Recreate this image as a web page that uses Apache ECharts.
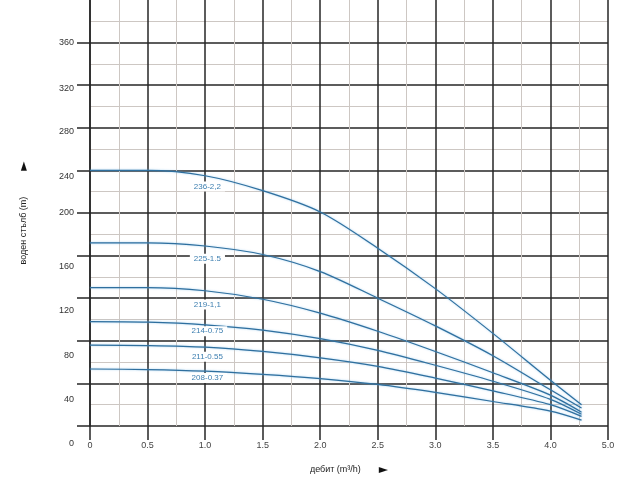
<!DOCTYPE html>
<html>
<head>
<meta charset="utf-8">
<script src="https://cdn.jsdelivr.net/npm/echarts@6/dist/echarts.min.js"></script>
<style>html,body{margin:0;padding:0;background:#fff}#c{width:640px;height:480px}</style>
</head>
<body>
<div id="c"></div>
<script>
// flow (m3/h, drawn scale; last tick labelled "5.0" sits at 4.5)
var flow = [0, 0.5, 1.0, 1.5, 2.0, 2.5, 3.0, 3.5, 4.0, 4.27];
var curveNames = ['236-2,2', '225-1.5', '219-1,1', '214-0.75', '211-0.55', '208-0.37'];
var h236 = [240, 240, 235, 221, 201, 167, 129, 87, 43, 20];
var h225 = [172, 172, 169, 161, 145, 120, 94, 66, 34, 17];
var h219 = [130, 130, 127, 119, 106, 89, 70, 50, 29, 13];
var h214 = [98, 97.5, 95, 90, 82, 71, 57, 42, 25, 11];
var h211 = [76, 75.5, 74, 70, 64, 56, 45, 33, 20, 9];
var h208 = [53.5, 53, 51.5, 48.5, 44.5, 39, 31.5, 23, 14, 5.5];
var heads = [h236, h225, h219, h214, h211, h208];
// label anchor heads (m) at flow 1.0
var labelHeads = [225, 157, 114, 89, 65, 45];
var yTickValues = [0, 40, 80, 120, 160, 200, 240, 280, 320, 360];
var xTickLabels = ['0', '0.5', '1.0', '1.5', '2.0', '2.5', '3.0', '3.5', '4.0', '5.0'];

var FONT = 'Liberation Sans, Arial, sans-serif';
// style: vertical shift of y tick labels as in the reference
var yLabelShift = {0: 18, 40: 16, 80: 15, 120: 12, 160: 11, 200: 0, 240: 6, 280: 4, 320: 3, 360: 0};
var rich = {};
Object.keys(yLabelShift).forEach(function (k) {
  rich['s' + k] = {padding: [yLabelShift[k] * 2, 0, 0, 0], fontSize: 9, color: '#333', fontFamily: FONT};
});

var dark = '#262626';
var light = '#cdc7c3';
var blue = '#2f6f9e';
var splitColors = yTickValues.map(function () { return dark; }).concat(['rgba(0,0,0,0)']);

var series = heads.map(function (h, i) {
  return {
    type: 'line',
    smooth: 0.3,
    showSymbol: false,
    silent: true,
    data: flow.map(function (x, j) { return [x, h[j]]; }),
    lineStyle: {color: blue, width: 1.2, shadowColor: 'rgba(110,180,230,0.7)', shadowBlur: 2},
    itemStyle: {color: blue},
    markPoint: {
      symbol: 'circle', symbolSize: 1,
      itemStyle: {color: 'rgba(0,0,0,0)'},
      label: {
        show: true, position: 'inside', formatter: curveNames[i],
        color: '#3d7fb0', fontSize: 8, backgroundColor: '#fff', padding: [1, 4],
        fontFamily: FONT
      },
      data: [{coord: [1.02, labelHeads[i]]}]
    },
    z: 3
  };
});

var chart = echarts.init(document.getElementById('c'), null, {renderer: 'canvas'});
chart.setOption({
  backgroundColor: '#fff',
  animation: false,
  grid: {left: 90, right: 32, top: 0, bottom: 54, containLabel: false, outerBoundsMode: 'none'},
  xAxis: {
    type: 'value', min: 0, max: 4.5, interval: 0.5,
    name: '{t|дебит (m³/h)}{g|}{a|►}', nameLocation: 'middle', nameGap: 38,
    nameTextStyle: {
      fontSize: 9, color: '#222', fontFamily: FONT,
      rich: {t: {fontSize: 9, color: '#222', fontFamily: FONT}, g: {width: 18}, a: {fontSize: 12, color: '#111', fontFamily: 'DejaVu Sans'}}
    },
    axisLine: {show: false},
    axisTick: {show: true, length: 14, lineStyle: {color: dark, width: 1.5}},
    axisLabel: {
      margin: 15, fontSize: 9, color: '#444', fontFamily: FONT,
      formatter: function (v) { return xTickLabels[Math.round(v / 0.5)]; }
    },
    splitLine: {show: true, lineStyle: {color: dark, width: 1.5}},
    minorTick: {show: false, splitNumber: 2},
    minorSplitLine: {show: true, lineStyle: {color: light, width: 1}}
  },
  yAxis: {
    type: 'value', min: 0, max: 400, interval: 40,
    name: '{t|воден стълб (m)}{g|}{a|►}', nameLocation: 'middle', nameGap: 60, nameRotate: 90,
    nameTextStyle: {
      fontSize: 9, color: '#222', fontFamily: FONT,
      rich: {t: {fontSize: 9, color: '#222', fontFamily: FONT}, g: {width: 26}, a: {fontSize: 12, color: '#111', fontFamily: 'DejaVu Sans'}}
    },
    axisLine: {show: true, lineStyle: {color: dark, width: 1.5}},
    axisTick: {show: true, length: 13, customValues: yTickValues, lineStyle: {color: dark, width: 1.5}},
    axisLabel: {
      margin: 16, customValues: yTickValues, rich: rich,
      fontSize: 9, color: '#333',
      formatter: function (v) { return '{s' + v + '|' + v + '}'; }
    },
    splitLine: {show: true, lineStyle: {color: splitColors, width: 1.5}},
    minorTick: {show: false, splitNumber: 2},
    minorSplitLine: {show: true, lineStyle: {color: light, width: 1}}
  },
  series: series
});
</script>
</body>
</html>
